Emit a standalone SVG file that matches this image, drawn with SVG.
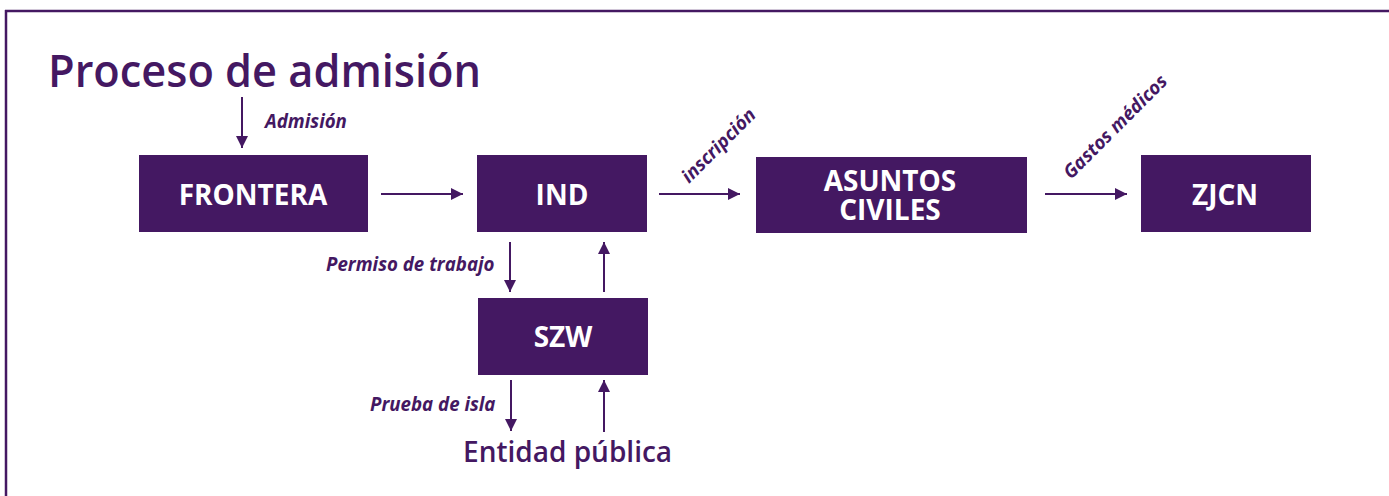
<svg xmlns="http://www.w3.org/2000/svg" width="1389" height="496" viewBox="0 0 1389 496">
<style>
.box{fill:#441862}
.lbl{fill:#fff;font-family:"Open Sans","Liberation Sans",sans-serif;font-weight:700;font-size:28px;text-anchor:middle}
.it{fill:#441862;font-family:"Open Sans","Liberation Sans",sans-serif;font-weight:700;font-style:italic;font-size:18.7px}
.ttl{fill:#441862;font-family:"Open Sans","Liberation Sans",sans-serif;font-weight:600}
.ln{stroke:#441862;stroke-width:2;fill:none;marker-end:url(#ah)}
</style>
<defs>
<marker id="ah" viewBox="0 0 10 10" refX="10" refY="5" markerWidth="6" markerHeight="6" markerUnits="strokeWidth" orient="auto">
<path d="M0,0 L10,5 L0,10 z" fill="#441862"/>
</marker>
</defs>
<rect width="1389" height="496" fill="#fff"/>
<g id="frame">
<line x1="5" y1="11" x2="1389" y2="11" stroke="#441862" stroke-width="2.5"/>
<line x1="6" y1="10" x2="6" y2="496" stroke="#441862" stroke-width="2.5"/>
</g>
<text class="ttl" x="48" y="87" font-size="46" textLength="433" lengthAdjust="spacingAndGlyphs">Proceso de admisión</text>
<g id="frontera"><rect class="box" x="139" y="155" width="229" height="77"/><text class="lbl" x="253" y="205">FRONTERA</text></g>
<g id="ind"><rect class="box" x="477" y="155" width="170" height="77"/><text class="lbl" x="562" y="205">IND</text></g>
<g id="asuntos"><rect class="box" x="756" y="157" width="271" height="76"/><text class="lbl" font-size="26"><tspan x="890" y="191">ASUNTOS</tspan><tspan x="890" y="220">CIVILES</tspan></text></g>
<g id="zjcn"><rect class="box" x="1141" y="155" width="170" height="77"/><text class="lbl" x="1225" y="205">ZJCN</text></g>
<g id="szw"><rect class="box" x="478" y="298" width="170" height="77"/><text class="lbl" x="563" y="347">SZW</text></g>
<g id="entidad"><text class="ttl" x="463" y="462" font-size="28">Entidad pública</text></g>
<g id="connectors">
<line class="ln" x1="242" y1="97" x2="242" y2="148"/>
<line class="ln" x1="381" y1="194" x2="463" y2="194"/>
<line class="ln" x1="659" y1="194" x2="740" y2="194"/>
<line class="ln" x1="1045" y1="194" x2="1127" y2="194"/>
<line class="ln" x1="510" y1="242" x2="510" y2="292"/>
<line class="ln" x1="604" y1="292" x2="604" y2="242"/>
<line class="ln" x1="511" y1="380" x2="511" y2="431"/>
<line class="ln" x1="604" y1="432" x2="604" y2="380"/>
</g>
<g id="labels">
<text class="it" x="265" y="128">Admisión</text>
<text class="it" x="326" y="271">Permiso de trabajo</text>
<text class="it" x="370" y="411">Prueba de isla</text>
<text class="it" transform="translate(689,184) rotate(-45)" font-size="19.5">inscripción</text>
<text class="it" transform="translate(1071,180) rotate(-45)" font-size="19.2">Gastos médicos</text>
</g>
</svg>
